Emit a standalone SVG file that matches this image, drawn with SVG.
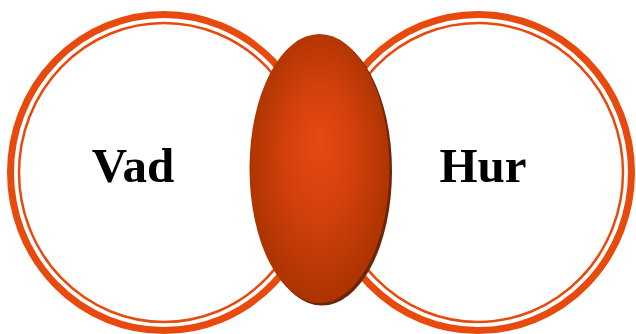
<svg xmlns="http://www.w3.org/2000/svg" width="636" height="334" viewBox="0 0 636 334">
<defs>
<style>
.band{fill:#fff;stroke:#E8490D;stroke-width:7}
.thin{fill:none;stroke:#E8490D;stroke-width:2.5}
.lbl{font-family:"Liberation Serif","Times New Roman",serif;font-weight:bold;font-size:49px;fill:#000;text-anchor:middle}
</style>
<radialGradient id="g" cx="50%" cy="48%" r="55%" fx="50%" fy="40%">
<stop offset="0" stop-color="#E64A12"/>
<stop offset="0.45" stop-color="#D2400C"/>
<stop offset="1" stop-color="#A83200"/>
</radialGradient>
</defs>
<g id="vad">
<ellipse class="band" cx="164" cy="172.5" rx="153.5" ry="158"/>
<ellipse class="thin" cx="164" cy="172.5" rx="145" ry="149.5"/>
<text class="lbl" x="133" y="181.5">Vad</text>
</g>
<g id="hur">
<ellipse class="band" cx="478" cy="172.5" rx="153.5" ry="158"/>
<ellipse class="thin" cx="478" cy="172.5" rx="145" ry="149.5"/>
<text class="lbl" x="483" y="181.5">Hur</text>
</g>
<g id="center">
<ellipse cx="322" cy="171" rx="70" ry="134.5" fill="#6E2408"/>
<ellipse cx="319.5" cy="168.5" rx="70" ry="134.5" fill="url(#g)"/>
</g>
<g id="connectors"></g>
</svg>
